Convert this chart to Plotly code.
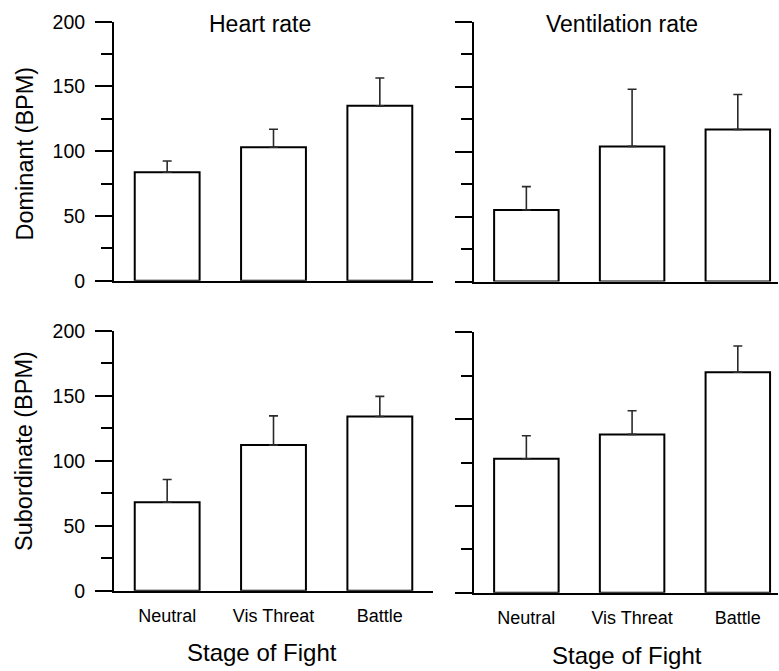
import plotly.graph_objects as go

W, H = 779, 671

stages = ["Neutral", "Vis Threat", "Battle"]

dom_heart_mean = [83.7, 103, 135]
dom_heart_err = [8.7, 14, 21.5]
dom_vent_mean = [55, 104, 117]
dom_vent_err = [18, 44, 27]
sub_heart_mean = [68, 112, 134]
sub_heart_err = [17.5, 22.5, 15.5]
sub_vent_mean = [77.2, 91.2, 127]
sub_vent_err = [13.2, 13.6, 15.1]

panel_titles = ["Heart rate", "Ventilation rate"]
row_titles = ["Dominant (BPM)", "Subordinate (BPM)"]
x_title = "Stage of Fight"

FONT = "Liberation Sans, Arial, Helvetica, sans-serif"


def px_x(v):
    return v / W


def px_y(v):
    return 1 - v / H


panels = [
    # (means, errs, xdom px, ydom px (top,bottom), xrange, yrange, show y labels, show x labels)
    (dom_heart_mean, dom_heart_err, (114, 433), (21.7, 280.7), [-0.5, 2.5], [0, 200], True, False),
    (dom_vent_mean, dom_vent_err, (473.5, 778), (21.7, 281.5), [-0.5, 2.38], [0, 200], False, False),
    (sub_heart_mean, sub_heart_err, (114, 433), (330.7, 590.7), [-0.5, 2.5], [0, 200], True, True),
    (sub_vent_mean, sub_vent_err, (473.5, 778), (332.3, 592.7), [-0.5, 2.38], [0, 150], False, True),
]

fig = go.Figure()
layout = dict(
    width=W,
    height=H,
    autosize=False,
    margin=dict(l=0, r=0, t=0, b=0, pad=0, autoexpand=False),
    paper_bgcolor="white",
    plot_bgcolor="white",
    showlegend=False,
    font=dict(family=FONT, color="black"),
)

for i, (m, e, xd, yd, xr, yr, ylab, xlab) in enumerate(panels, start=1):
    xa = "x" if i == 1 else f"x{i}"
    ya = "y" if i == 1 else f"y{i}"
    fig.add_trace(
        go.Bar(
            x=list(range(len(stages))),
            y=m,
            xaxis=xa,
            yaxis=ya,
            width=0.61,
            marker=dict(color="white", line=dict(color="black", width=2)),
            error_y=dict(
                type="data",
                symmetric=False,
                array=e,
                arrayminus=[0] * len(e),
                color="#2a2a2a",
                thickness=1.6,
                width=4.5,
            ),
        )
    )
    xkey = "xaxis" if i == 1 else f"xaxis{i}"
    ykey = "yaxis" if i == 1 else f"yaxis{i}"
    layout[xkey] = dict(
        domain=[px_x(xd[0]), px_x(xd[1])],
        range=xr,
        anchor=ya,
        automargin=False,
        showline=True,
        linecolor="black",
        linewidth=2,
        showgrid=False,
        zeroline=False,
        ticks="",
        tickmode="array",
        tickvals=list(range(len(stages))),
        ticktext=stages,
        showticklabels=xlab,
        tickfont=dict(size=18, family=FONT, color="black"),
        ticklabelstandoff=8,
    )
    layout[ykey] = dict(
        domain=[px_y(yd[1]), px_y(yd[0])],
        range=yr,
        anchor=xa,
        automargin=False,
        showline=True,
        linecolor="black",
        linewidth=2,
        showgrid=False,
        zeroline=False,
        ticks="outside",
        ticklen=17,
        tickwidth=2,
        tickcolor="black",
        dtick=50,
        tick0=0,
        showticklabels=ylab,
        tickfont=dict(size=19.5, family=FONT, color="black"),
        ticklabelstandoff=6,
        minor=dict(ticks="outside", ticklen=11, tickwidth=2, tickcolor="black", dtick=25, tick0=0, showgrid=False),
    )

annotations = []
# panel titles
for txt, cx in zip(panel_titles, [260, 621.7]):
    annotations.append(dict(text=txt, x=px_x(cx), y=px_y(24), xref="paper", yref="paper",
                            xanchor="center", yanchor="middle", showarrow=False,
                            font=dict(size=23, family=FONT, color="black")))
# row titles
for txt, cy in zip(row_titles, [153.5, 451]):
    annotations.append(dict(text=txt, x=px_x(24), y=px_y(cy), xref="paper", yref="paper",
                            xanchor="center", yanchor="middle", showarrow=False, textangle=-90,
                            font=dict(size=23.5, family=FONT, color="black")))
# x titles
for cx, cy in [(261.7, 652), (626.7, 655)]:
    annotations.append(dict(text=x_title, x=px_x(cx), y=px_y(cy), xref="paper", yref="paper",
                            xanchor="center", yanchor="middle", showarrow=False,
                            font=dict(size=24, family=FONT, color="black")))
layout["annotations"] = annotations

fig.update_layout(**layout)
fig.write_html("out.html")
